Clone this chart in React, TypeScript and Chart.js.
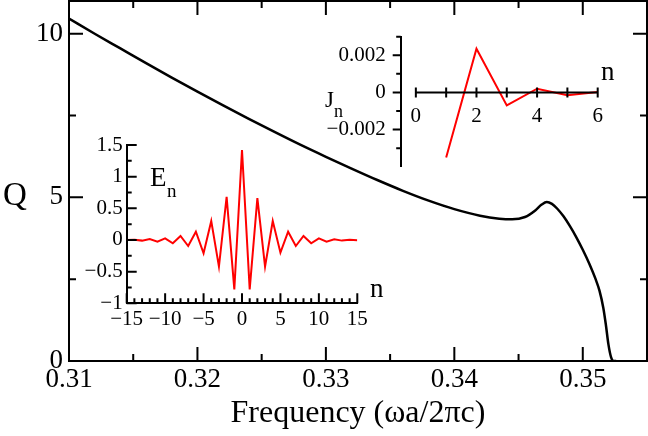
import { useEffect, useRef } from 'react';
import { Chart, registerables } from 'chart.js';

Chart.register(...registerables);

const W = 648;
const H = 436;
const SERIF = '"Liberation Serif", "DejaVu Serif", serif';

// main curve: Q against frequency
const frequency = [0.310, 0.312, 0.314, 0.316, 0.318, 0.320, 0.322, 0.324, 0.326, 0.328, 0.330, 0.332, 0.334, 0.336, 0.338, 0.340, 0.342, 0.3435, 0.3445, 0.3455, 0.3463, 0.3468, 0.3472, 0.3476, 0.3480, 0.3485, 0.3490, 0.3495, 0.3500, 0.3505, 0.3510, 0.3513, 0.3516, 0.3518, 0.3520, 0.3522, 0.3524, 0.3526];
const qFactor = [10.46, 10.0, 9.55, 9.10, 8.66, 8.23, 7.81, 7.40, 7.00, 6.61, 6.24, 5.88, 5.53, 5.20, 4.90, 4.64, 4.44, 4.35, 4.33, 4.40, 4.60, 4.78, 4.86, 4.80, 4.66, 4.42, 4.12, 3.78, 3.40, 2.98, 2.50, 2.15, 1.62, 1.10, 0.50, 0.12, 0.0, 0.0];
const freqTicks = [0.31, 0.32, 0.33, 0.34, 0.35];
const freqMinorTicks = [0.315, 0.325, 0.335, 0.345];
const qTicks = [0, 5, 10];
const qMinorTicks = [2.5, 7.5];

// inset E_n
const eIndex = [-15, -14, -13, -12, -11, -10, -9, -8, -7, -6, -5, -4, -3, -2, -1, 0, 1, 2, 3, 4, 5, 6, 7, 8, 9, 10, 11, 12, 13, 14, 15];
const eValues = [0.0, 0.005, -0.01, 0.016, -0.026, 0.026, -0.053, 0.063, -0.095, 0.13, -0.21, 0.30, -0.42, 0.68, -0.78, 1.42, -0.78, 0.66, -0.42, 0.30, -0.20, 0.13, -0.095, 0.063, -0.053, 0.026, -0.026, 0.01, -0.01, 0.005, -0.005];
const eXTicks = [-15, -10, -5, 0, 5, 10, 15];
const eXMinorTicks = [-14, -13, -12, -11, -9, -8, -7, -6, -4, -3, -2, -1, 1, 2, 3, 4, 6, 7, 8, 9, 11, 12, 13, 14];
const eYTicks = [-1, -0.5, 0, 0.5, 1, 1.5];
const eYMinorTicks = [-0.75, -0.25, 0.25, 0.75, 1.25];

// inset J_n
const jIndex = [1, 2, 3, 4, 5, 6];
const jValues = [-0.0035, 0.00235, -0.0007, 0.0002, -0.00015, 0.00002];
const jXTicks = [0, 1, 2, 3, 4, 5, 6];
const jXLabels = [0, 2, 4, 6];
const jYTicks = [-0.002, 0, 0.002];
const jYMinorTicks = [-0.003, -0.001, 0.001, 0.003];

const minus = (s: string) => s.replace('-', '\u2212');

function setTicks(values: number[]) {
  return (s: any) => {
    s.ticks = values.map((value) => ({ value }));
  };
}

function fixSize(prop: 'width' | 'height', size: number) {
  return (s: any) => {
    s[prop] = size;
    s.paddingTop = 0;
    s.paddingBottom = 0;
    s.paddingLeft = 0;
    s.paddingRight = 0;
  };
}

const mainFrame = {
  id: 'mainFrame',
  afterDraw(chart: any) {
    const { ctx, chartArea: a } = chart;
    const x = chart.scales.x;
    const y = chart.scales.y;
    ctx.save();
    ctx.strokeStyle = '#000';
    ctx.lineWidth = 2;
    ctx.beginPath();
    ctx.moveTo(a.left, a.top);
    ctx.lineTo(a.right, a.top);
    ctx.lineTo(a.right, a.bottom);
    const xt = (vals: number[], len: number) =>
      vals.forEach((v) => {
        const px = x.getPixelForValue(v);
        ctx.moveTo(px, a.bottom);
        ctx.lineTo(px, a.bottom - len);
        ctx.moveTo(px, a.top);
        ctx.lineTo(px, a.top + len);
      });
    const yt = (vals: number[], len: number) =>
      vals.forEach((v) => {
        const py = y.getPixelForValue(v);
        ctx.moveTo(a.left, py);
        ctx.lineTo(a.left + len, py);
        ctx.moveTo(a.right, py);
        ctx.lineTo(a.right - len, py);
      });
    xt(freqTicks, 14);
    xt(freqMinorTicks, 7);
    yt(qTicks, 14);
    yt(qMinorTicks, 7);
    ctx.stroke();
    ctx.fillStyle = '#000';
    ctx.font = `33px ${SERIF}`;
    ctx.textAlign = 'center';
    ctx.textBaseline = 'middle';
    ctx.fillText('Q', 15, 196);
    ctx.restore();
  },
};

const eFrame = {
  id: 'eFrame',
  afterDraw(chart: any) {
    const { ctx, chartArea: a } = chart;
    const x = chart.scales.x;
    const y = chart.scales.y;
    ctx.save();
    ctx.strokeStyle = '#000';
    ctx.lineWidth = 2;
    ctx.beginPath();
    const xt = (vals: number[], len: number) =>
      vals.forEach((v) => {
        const px = x.getPixelForValue(v);
        ctx.moveTo(px, a.bottom);
        ctx.lineTo(px, a.bottom - len);
      });
    const yt = (vals: number[], len: number) =>
      vals.forEach((v) => {
        const py = y.getPixelForValue(v);
        ctx.moveTo(a.left, py);
        ctx.lineTo(a.left + len, py);
      });
    xt(eXTicks, 10);
    xt(eXMinorTicks, 5);
    yt(eYTicks, 10);
    yt(eYMinorTicks, 5);
    ctx.stroke();
    ctx.fillStyle = '#000';
    ctx.textAlign = 'left';
    ctx.textBaseline = 'alphabetic';
    ctx.font = `27px ${SERIF}`;
    ctx.fillText('E', 150, 186);
    ctx.font = `19px ${SERIF}`;
    ctx.fillText('n', 167, 197);
    ctx.font = `27px ${SERIF}`;
    ctx.fillText('n', 370, 297);
    ctx.restore();
  },
};

const jFrame = {
  id: 'jFrame',
  afterDraw(chart: any) {
    const { ctx, chartArea: a } = chart;
    const x = chart.scales.x;
    const y = chart.scales.y;
    const y0 = y.getPixelForValue(0);
    ctx.save();
    ctx.strokeStyle = '#000';
    ctx.lineWidth = 2;
    ctx.beginPath();
    ctx.moveTo(x.getPixelForValue(jXTicks[0]), y0);
    ctx.lineTo(x.getPixelForValue(jXTicks[jXTicks.length - 1]), y0);
    jXTicks.forEach((v) => {
      const px = x.getPixelForValue(v);
      ctx.moveTo(px, y0 - 5);
      ctx.lineTo(px, y0 + 5);
    });
    const yt = (vals: number[], len: number) =>
      vals.forEach((v) => {
        const py = y.getPixelForValue(v);
        ctx.moveTo(a.left, py);
        ctx.lineTo(a.left - len, py);
      });
    yt(jYTicks, 8);
    yt(jYMinorTicks, 4.5);
    ctx.stroke();
    ctx.fillStyle = '#000';
    ctx.textAlign = 'left';
    ctx.textBaseline = 'alphabetic';
    ctx.font = `23px ${SERIF}`;
    ctx.fillText('J', 325, 107);
    ctx.font = `18px ${SERIF}`;
    ctx.fillText('n', 334, 117);
    ctx.font = `27px ${SERIF}`;
    ctx.fillText('n', 601, 80);
    ctx.restore();
  },
};

const noGrid = { display: false, drawTicks: false };
const border = { display: true, color: '#000', width: 2 };

export default function App() {
  const mainRef = useRef<HTMLCanvasElement>(null);
  const eRef = useRef<HTMLCanvasElement>(null);
  const jRef = useRef<HTMLCanvasElement>(null);

  useEffect(() => {
    if (!mainRef.current || !eRef.current || !jRef.current) return;

    const common = {
      responsive: false,
      animation: false as const,
      events: [],
      plugins: { legend: { display: false }, tooltip: { enabled: false } },
    };

    const mainChart = new Chart(mainRef.current, {
      type: 'line',
      data: {
        datasets: [{
          data: frequency.map((f, i) => ({ x: f, y: qFactor[i] })),
          borderColor: '#000',
          borderWidth: 2.5,
          pointRadius: 0,
          cubicInterpolationMode: 'monotone',
          fill: false,
        }],
      },
      options: {
        ...common,
        layout: { padding: { top: 1, right: 1, left: 0, bottom: 0 } },
        scales: {
          x: {
            type: 'linear',
            min: 0.31,
            max: 0.355,
            afterBuildTicks: setTicks(freqTicks),
            afterFit: fixSize('height', 75),
            grid: noGrid,
            border,
            ticks: {
              color: '#000',
              font: { family: SERIF, size: 27 },
              padding: 3,
              maxRotation: 0,
              autoSkip: false,
              callback: (v: any) => Number(v).toFixed(2),
            },
            title: {
              display: true,
              text: 'Frequency (\u03c9a/2\u03c0c)',
              color: '#000',
              font: { family: SERIF, size: 32 },
              padding: { top: 0, bottom: 3 },
            },
          },
          y: {
            type: 'linear',
            min: 0,
            max: 11,
            afterBuildTicks: setTicks(qTicks),
            afterFit: fixSize('width', 69),
            grid: noGrid,
            border,
            ticks: {
              color: '#000',
              font: { family: SERIF, size: 27 },
              padding: 6,
              callback: (v: any) => String(v),
            },
          },
        },
      },
      plugins: [mainFrame],
    } as any);

    const eChart = new Chart(eRef.current, {
      type: 'line',
      data: {
        datasets: [{
          data: eIndex.map((n, i) => ({ x: n, y: eValues[i] })),
          borderColor: '#ff0000',
          borderWidth: 2,
          pointRadius: 0,
          tension: 0,
          fill: false,
        }],
      },
      options: {
        ...common,
        layout: { padding: { top: 145, right: 290.7, left: 0, bottom: 0 } },
        scales: {
          x: {
            type: 'linear',
            min: -15,
            max: 15,
            afterBuildTicks: setTicks(eXTicks),
            afterFit: fixSize('height', 132.7),
            grid: noGrid,
            border,
            ticks: {
              color: '#000',
              font: { family: SERIF, size: 21 },
              padding: 4,
              maxRotation: 0,
              autoSkip: false,
              callback: (v: any) => minus(String(v)),
            },
          },
          y: {
            type: 'linear',
            min: -1,
            max: 1.5,
            afterBuildTicks: setTicks(eYTicks),
            afterFit: fixSize('width', 126.7),
            grid: noGrid,
            border,
            ticks: {
              color: '#000',
              font: { family: SERIF, size: 21 },
              padding: 4,
              callback: (v: any) => minus(String(v)),
            },
          },
        },
      },
      plugins: [eFrame],
    } as any);

    const jChart = new Chart(jRef.current, {
      type: 'line',
      data: {
        datasets: [{
          data: jIndex.map((n, i) => ({ x: n, y: jValues[i] })),
          borderColor: '#ff0000',
          borderWidth: 2,
          pointRadius: 0,
          tension: 0,
          fill: false,
        }],
      },
      options: {
        ...common,
        layout: { padding: { top: 36.7, right: 50.3, left: 0, bottom: 269.3 } },
        scales: {
          x: {
            type: 'linear',
            min: -0.5,
            max: 6,
            position: { y: 0 },
            afterBuildTicks: setTicks(jXLabels),
            afterFit: fixSize('height', 0),
            grid: noGrid,
            border: { display: false },
            ticks: {
              color: '#000',
              font: { family: SERIF, size: 21 },
              padding: 11,
              maxRotation: 0,
              autoSkip: false,
              callback: (v: any) => String(v),
            },
          },
          y: {
            type: 'linear',
            min: -0.004,
            max: 0.003,
            afterBuildTicks: setTicks(jYTicks),
            afterFit: fixSize('width', 400.7),
            grid: noGrid,
            border,
            ticks: {
              color: '#000',
              font: { family: SERIF, size: 21 },
              padding: 15,
              callback: (v: any) => (Number(v) === 0 ? '0' : minus(Number(v).toFixed(3))),
            },
          },
        },
      },
      plugins: [jFrame],
    } as any);

    return () => {
      mainChart.destroy();
      eChart.destroy();
      jChart.destroy();
    };
  }, []);

  const canvasStyle = { position: 'absolute' as const, left: 0, top: 0, display: 'block' };

  return (
    <div style={{ position: 'absolute', left: 0, top: 0, width: W, height: H, background: '#fff' }}>
      <canvas ref={mainRef} width={W} height={H} style={canvasStyle} />
      <canvas ref={eRef} width={W} height={H} style={canvasStyle} />
      <canvas ref={jRef} width={W} height={H} style={canvasStyle} />
    </div>
  );
}
